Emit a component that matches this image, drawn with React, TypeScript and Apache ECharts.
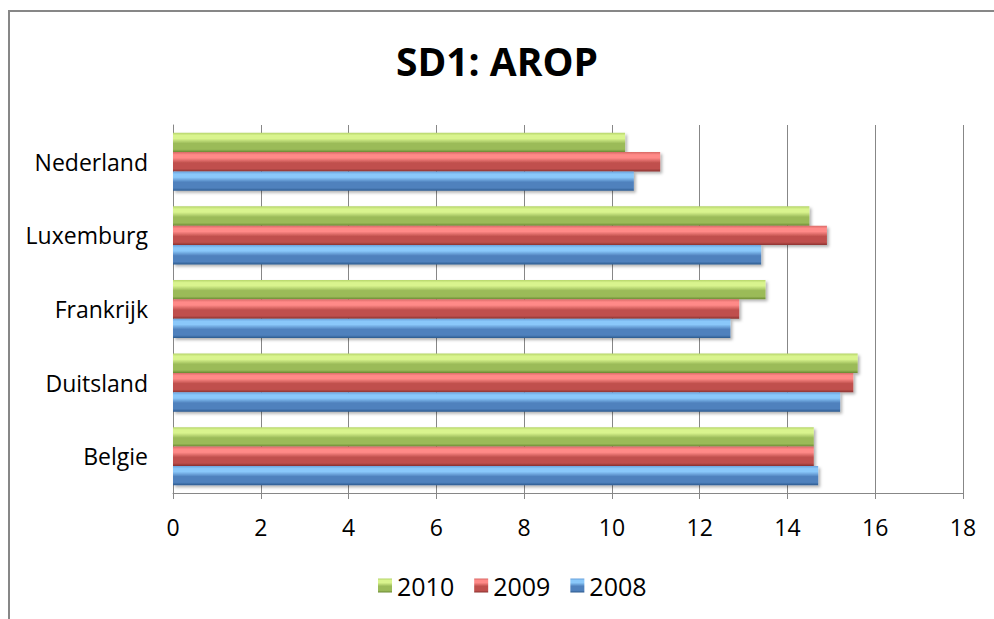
import React, { useEffect, useRef } from "react";
import * as echarts from "echarts";

const categories = ["Belgie", "Duitsland", "Frankrijk", "Luxemburg", "Nederland"];
const values2008 = [14.7, 15.2, 12.7, 13.4, 10.5];
const values2009 = [14.6, 15.5, 12.9, 14.9, 11.1];
const values2010 = [14.6, 15.6, 13.5, 14.5, 10.3];
const xTicks = { min: 0, max: 18, interval: 2 };

const FONT = "'Open Sans', 'Noto Sans', sans-serif";

function grad(edge: string, hi: string, base: string, dark: string) {
  return new echarts.graphic.LinearGradient(0, 0, 0, 1, [
    { offset: 0, color: edge },
    { offset: 0.14, color: hi },
    { offset: 0.3, color: hi },
    { offset: 0.55, color: base },
    { offset: 0.85, color: base },
    { offset: 1, color: dark },
  ]);
}

export default function App() {
  const ref = useRef<HTMLDivElement>(null);
  useEffect(() => {
    const chart = echarts.init(ref.current!, null, { renderer: "svg" });
    const green = grad("#b5d46a", "#d9f48e", "#9bbb59", "#6b8a33");
    const red = grad("#d96a67", "#ff8a88", "#c0504d", "#8b3230");
    const blue = grad("#6aa2dc", "#8ac8fa", "#4f81bd", "#2c5a8e");
    const shadow = {
      shadowBlur: 3,
      shadowColor: "rgba(0,0,0,0.3)",
      shadowOffsetX: 2,
      shadowOffsetY: 2,
    };
    chart.setOption({
      animation: false,
      backgroundColor: "#fff",
      title: {
        text: "SD1: AROP",
        left: "center",
        top: 36,
        textStyle: { fontFamily: FONT, fontWeight: "bold", fontSize: 39, color: "#000" },
      },
      graphic: [
        {
          type: "rect",
          shape: { x: 9, y: 11, width: 1100, height: 700 },
          style: { fill: "none", stroke: "#878787", lineWidth: 2 },
          silent: true,
        },
      ],
      legend: {
        data: ["2010", "2009", "2008"],
        top: 568,
        left: 373,
        itemWidth: 14,
        itemHeight: 14,
        itemGap: 20,
        icon: "rect",
        textStyle: { fontFamily: FONT, fontSize: 25, color: "#000" },
      },
      grid: { left: 173, right: 31, top: 125, bottom: 126, containLabel: false },
      xAxis: {
        type: "value",
        min: xTicks.min,
        max: xTicks.max,
        interval: xTicks.interval,
        axisLine: { show: true, lineStyle: { color: "#878787", width: 1 } },
        axisTick: { show: true, length: 6, lineStyle: { color: "#878787" } },
        splitLine: { show: true, lineStyle: { color: "#878787", width: 1 } },
        axisLabel: { fontFamily: FONT, fontSize: 23, color: "#000", margin: 22 },
      },
      yAxis: {
        type: "category",
        data: categories,
        axisLine: { show: true, lineStyle: { color: "#878787", width: 1 } },
        axisTick: { show: false },
        axisLabel: { fontFamily: FONT, fontSize: 23, color: "#000", margin: 25 },
      },
      series: [
        {
          name: "2010",
          type: "bar",
          data: values2010,
          barGap: "0%",
          barCategoryGap: "21%",
          itemStyle: { color: green, ...shadow },
        },
        {
          name: "2009",
          type: "bar",
          data: values2009,
          barGap: "0%",
          barCategoryGap: "21%",
          itemStyle: { color: red, ...shadow },
        },
        {
          name: "2008",
          type: "bar",
          data: values2008,
          barGap: "0%",
          barCategoryGap: "21%",
          itemStyle: { color: blue, ...shadow },
        },
      ],
    });
    return () => chart.dispose();
  }, []);
  return (
    <div
      ref={ref}
      style={{ position: "fixed", left: 0, top: 0, width: 994, height: 619 }}
    />
  );
}
